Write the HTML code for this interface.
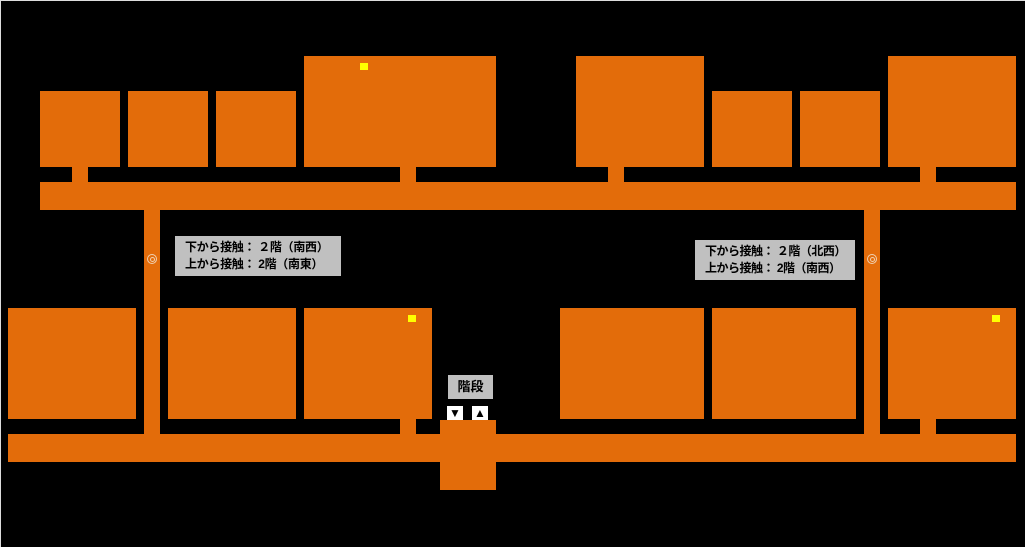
<!DOCTYPE html>
<html><head><meta charset="utf-8"><style>
body{margin:0;width:1025px;height:547px;background:#000;position:relative;overflow:hidden;font-family:"Liberation Sans","Noto Sans CJK JP",sans-serif}
.o{position:absolute;background:#e36c0a}
.y{position:absolute;background:#ffff00;width:8px;height:7px}
.l{position:absolute;background:#c0c0c0;color:#000;font-weight:bold;font-size:12px;line-height:17px;box-sizing:border-box;white-space:nowrap}
.a{position:absolute;background:#fff;width:16px;height:14px;color:#000;font-size:12px;text-align:center;line-height:14px}
.c{position:absolute;width:10px;height:10px;border:1.5px solid #f0d0b0;border-radius:50%;box-sizing:border-box}
.c:after{content:"";position:absolute;left:2px;top:2px;width:3px;height:3px;border:1px solid #f0d0b0;border-radius:50%}
</style></head><body>
<div style="position:absolute;left:0;top:0;width:1025px;height:1px;background:#ddd"></div>
<div style="position:absolute;left:0;top:0;width:1px;height:547px;background:#ddd"></div>
<div class="o" style="left:40px;top:91px;width:80px;height:76px"></div>
<div class="o" style="left:128px;top:91px;width:80px;height:76px"></div>
<div class="o" style="left:216px;top:91px;width:80px;height:76px"></div>
<div class="o" style="left:304px;top:56px;width:192px;height:111px"></div>
<div class="o" style="left:576px;top:56px;width:128px;height:111px"></div>
<div class="o" style="left:712px;top:91px;width:80px;height:76px"></div>
<div class="o" style="left:800px;top:91px;width:80px;height:76px"></div>
<div class="o" style="left:888px;top:56px;width:128px;height:111px"></div>
<div class="o" style="left:72px;top:167px;width:16px;height:16px"></div>
<div class="o" style="left:400px;top:167px;width:16px;height:16px"></div>
<div class="o" style="left:608px;top:167px;width:16px;height:16px"></div>
<div class="o" style="left:920px;top:167px;width:16px;height:16px"></div>
<div class="o" style="left:40px;top:182px;width:976px;height:28px"></div>
<div class="o" style="left:144px;top:209px;width:16px;height:226px"></div>
<div class="o" style="left:864px;top:209px;width:16px;height:226px"></div>
<div class="o" style="left:8px;top:308px;width:128px;height:111px"></div>
<div class="o" style="left:168px;top:308px;width:128px;height:111px"></div>
<div class="o" style="left:304px;top:308px;width:128px;height:111px"></div>
<div class="o" style="left:560px;top:308px;width:144px;height:111px"></div>
<div class="o" style="left:712px;top:308px;width:144px;height:111px"></div>
<div class="o" style="left:888px;top:308px;width:128px;height:111px"></div>
<div class="o" style="left:400px;top:419px;width:16px;height:16px"></div>
<div class="o" style="left:920px;top:419px;width:16px;height:16px"></div>
<div class="o" style="left:8px;top:434px;width:1008px;height:28px"></div>
<div class="o" style="left:440px;top:420px;width:56px;height:70px"></div>
<div class="y" style="left:360px;top:63px"></div>
<div class="y" style="left:408px;top:315px"></div>
<div class="y" style="left:992px;top:315px"></div>
<div class="c" style="left:147px;top:254px"></div>
<div class="c" style="left:867px;top:254px"></div>
<div class="l" style="left:175px;top:236px;width:166px;height:40px;padding:3px 0 0 10px;letter-spacing:-0.3px">下から接触： ２階（南西）<br>上から接触： 2階（南東）</div>
<div class="l" style="left:695px;top:240px;width:160px;height:40px;padding:3px 0 0 10px;letter-spacing:-0.5px">下から接触： ２階（北西）<br>上から接触： 2階（南西）</div>
<div class="l" style="left:448px;top:375px;width:45px;height:24px;line-height:24px;text-align:center;font-size:13px">階段</div>
<div class="a" style="left:447px;top:406px">▼</div>
<div class="a" style="left:472px;top:406px">▲</div>
</body></html>
